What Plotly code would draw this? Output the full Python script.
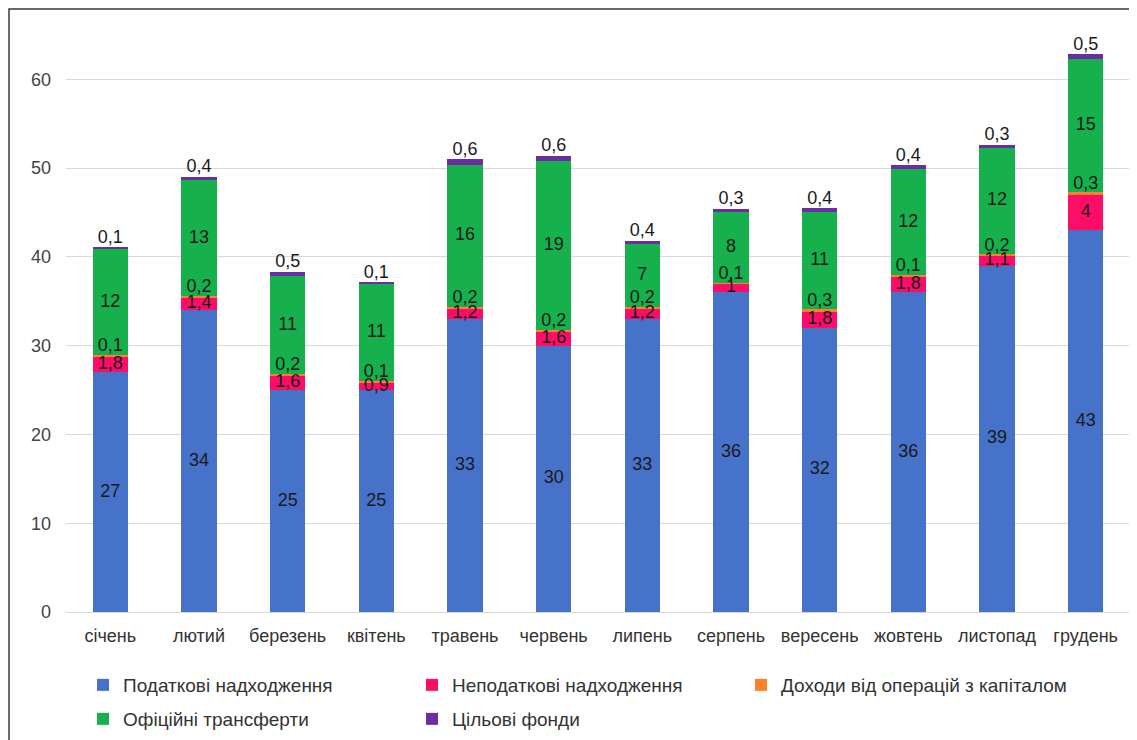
import plotly.graph_objects as go
import numpy as np

months = ["січень", "лютий", "березень", "квітень", "травень", "червень",
          "липень", "серпень", "вересень", "жовтень", "листопад", "грудень"]
tax = [27, 34, 25, 25, 33, 30, 33, 36, 32, 36, 39, 43]
nontax = [1.8, 1.4, 1.6, 0.9, 1.2, 1.6, 1.2, 1, 1.8, 1.8, 1.1, 4]
capital = [0.1, 0.2, 0.2, 0.1, 0.2, 0.2, 0.2, 0.1, 0.3, 0.1, 0.2, 0.3]
transfers = [12, 13, 11, 11, 16, 19, 7, 8, 11, 12, 12, 15]
funds = [0.1, 0.4, 0.5, 0.1, 0.6, 0.6, 0.4, 0.3, 0.4, 0.4, 0.3, 0.5]

series = [
    ("Податкові надходження", tax, "#4672c9", "legend"),
    ("Неподаткові надходження", nontax, "#fb0d68", "legend"),
    ("Доходи від операцій з капіталом", capital, "#ff7f2a", "legend"),
    ("Офіційні трансферти", transfers, "#16b04c", "legend2"),
    ("Цільові фонди", funds, "#6a2ea2", "legend2"),
]

def fmt(v):
    return ("%g" % v).replace(".", ",")

FONT = "Liberation Sans, Arial, sans-serif"
W, H = 1129, 732          # page adds 8px body margin
ML, MR, MT, MB = 58, 7, 18, 128
PW, PH = W - ML - MR, H - MT - MB

fig = go.Figure()
base = np.zeros(len(months))
label_specs = []
for i, (name, vals, color, leg) in enumerate(series):
    vals = np.array(vals, dtype=float)
    fig.add_trace(go.Bar(
        x=months, y=vals, name=name, marker=dict(color=color, line=dict(width=0)),
        hoverinfo="skip", legend=leg,
    ))
    if i in (0, 1, 3):
        ypos = base + vals / 2
        pos = "middle center"
    elif i == 2:
        ypos = base + vals / 2
        pos = "top center"
    else:
        ypos = base + vals
        pos = "top center"
    label_specs.append((ypos.copy(), [fmt(v) for v in vals], pos))
    base = base + vals

for ypos, texts, pos in label_specs:
    fig.add_trace(go.Scatter(
        x=months, y=ypos, text=texts, mode="text", textposition=pos,
        textfont=dict(family=FONT, size=18, color="#1a1a1a"),
        showlegend=False, hoverinfo="skip",
    ))

legfont = dict(family=FONT, size=19, color="#333333")
lx = 75 / W
fig.update_layout(
    barmode="stack",
    bargap=0.6,
    width=W, height=H,
    margin=dict(l=ML, r=MR, t=MT, b=MB, autoexpand=False),
    plot_bgcolor="white", paper_bgcolor="white",
    font=dict(family=FONT, size=18, color="#333333"),
    showlegend=True,
    legend=dict(
        orientation="h", xref="container", yref="container",
        x=lx, xanchor="left", y=1 - 677 / H, yanchor="middle",
        entrywidth=284, entrywidthmode="pixels", itemwidth=30,
        font=legfont, traceorder="normal",
    ),
    legend2=dict(
        orientation="h", xref="container", yref="container",
        x=lx, xanchor="left", y=1 - 711 / H, yanchor="middle",
        entrywidth=284, entrywidthmode="pixels", itemwidth=30,
        font=legfont, traceorder="normal",
    ),
    xaxis=dict(range=[-0.5, len(months) - 0.5], showline=False, ticks="",
               tickfont=dict(size=18, color="#333333"),
               ticklabelstandoff=11, showgrid=False),
    yaxis=dict(range=[0, 66], dtick=10, showgrid=True, gridcolor="#d9d9d9", gridwidth=1,
               zeroline=True, zerolinecolor="#d9d9d9", zerolinewidth=1,
               tickfont=dict(size=18, color="#444444"), ticklabelstandoff=14,
               showline=False, ticks=""),
    shapes=[dict(type="rect", xref="paper", yref="paper",
                 x0=(1 - ML) / PW, x1=1.05, y0=-0.3, y1=(MT + PH - 1) / PH,
                 line=dict(color="#3a3a3a", width=1.5), fillcolor="rgba(0,0,0,0)", layer="above")],
)

fig.write_html("out.html")
